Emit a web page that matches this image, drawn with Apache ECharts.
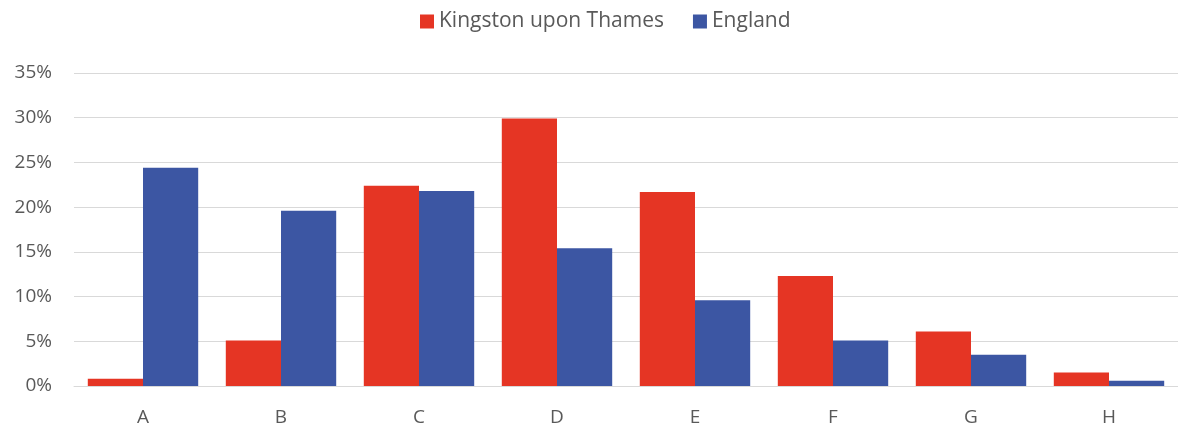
<!DOCTYPE html>
<html><head><meta charset="utf-8">
<script src="https://cdn.jsdelivr.net/npm/echarts@6/dist/echarts.min.js"></script>
<style>html,body{margin:0;padding:0;background:#fff}#c{width:1178px;height:428px}</style>
</head><body><div id="c"></div>
<script>
const categories = ['A','B','C','D','E','F','G','H'];
const kingston = [0.8, 5.1, 22.4, 29.9, 21.7, 12.3, 6.1, 1.5];
const england = [24.4, 19.6, 21.8, 15.4, 9.6, 5.1, 3.5, 0.6];
const seriesNames = ['Kingston upon Thames', 'England'];
const chart = echarts.init(document.getElementById('c'));
const font = '"Open Sans", sans-serif';
chart.setOption({
  animation: false,
  legend: {
    top: 6, left: 415, itemWidth: 14, itemHeight: 14, itemGap: 29,
    icon: 'rect',
    textStyle: {color: '#595959', fontSize: 21, fontFamily: font},
    data: seriesNames
  },
  grid: {left: 74, right: 0, top: 73, bottom: 42},
  xAxis: {
    type: 'category', data: categories,
    axisTick: {show: false},
    axisLine: {lineStyle: {color: '#d9d9d9', width: 1}},
    axisLabel: {color: '#595959', fontSize: 19, fontFamily: font, margin: 22}
  },
  yAxis: {
    type: 'value', min: 0, max: 35, interval: 5,
    axisLabel: {color: '#595959', fontSize: 19, fontFamily: font, formatter: '{value}%', margin: 22},
    splitLine: {lineStyle: {color: '#d9d9d9', width: 1}},
    axisLine: {show: false}, axisTick: {show: false}
  },
  series: [
    {name: seriesNames[0], type: 'bar', data: kingston, barGap: '0%', barCategoryGap: '20%',
     itemStyle: {color: '#E53524'}},
    {name: seriesNames[1], type: 'bar', data: england,
     itemStyle: {color: '#3C56A3'}}
  ]
});
</script></body></html>
